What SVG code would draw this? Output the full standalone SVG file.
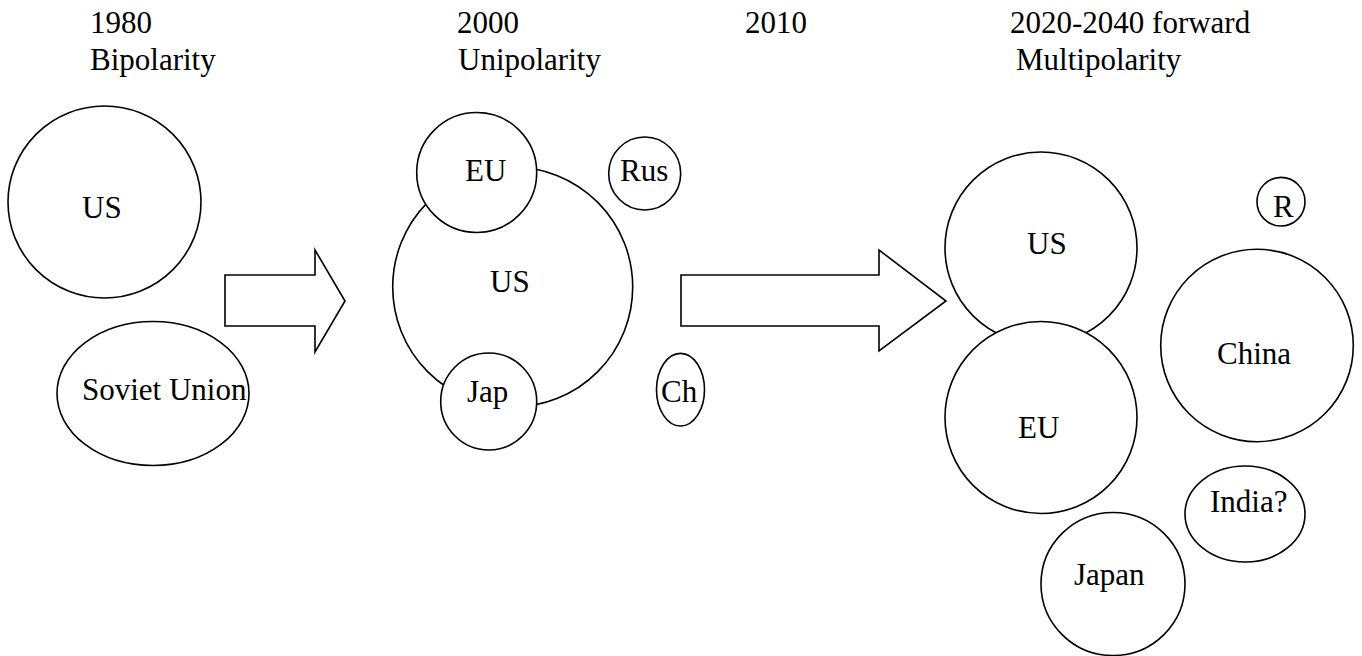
<svg xmlns="http://www.w3.org/2000/svg" width="1362" height="656" viewBox="0 0 1362 656">
<style>
.s{fill:#fff;stroke:#000;stroke-width:1.6}
</style>
<rect width="1362" height="656" fill="#fff"/>
<g font-family="Liberation Serif, Tinos, Times New Roman, serif" font-size="31" fill="#000">
<g id="titles">
<text x="90" y="33">1980</text>
<text x="90" y="70">Bipolarity</text>
<text x="457" y="33">2000</text>
<text x="458" y="70">Unipolarity</text>
<text x="745" y="33">2010</text>
<text x="1010" y="33">2020-2040 forward</text>
<text x="1016" y="70">Multipolarity</text>
</g>
<g id="connectors">
<path class="s" d="M225,275 H315 V250 L345,301 L315,352 V326 H225 Z"/>
<path class="s" d="M681,275 H879 V250 L946,301 L879,351 V326 H681 Z"/>
</g>
<g id="us1980"><ellipse class="s" cx="104.5" cy="202" rx="96.5" ry="96"/><text x="82" y="218">US</text></g>
<g id="soviet"><ellipse class="s" cx="153" cy="393.5" rx="96" ry="72"/><text x="82" y="400">Soviet Union</text></g>
<g id="us2000"><ellipse class="s" cx="512.7" cy="287" rx="120" ry="120"/><text x="490" y="292">US</text></g>
<g id="eu2000"><ellipse class="s" cx="476.7" cy="172.5" rx="60" ry="60"/><text x="465" y="181">EU</text></g>
<g id="jap2000"><ellipse class="s" cx="488.7" cy="401.5" rx="48" ry="48.5"/><text x="467" y="402">Jap</text></g>
<g id="rus2000"><ellipse class="s" cx="644.7" cy="173.5" rx="36" ry="36.5"/><text x="620" y="181">Rus</text></g>
<g id="ch2000"><ellipse class="s" cx="680.5" cy="389.7" rx="24" ry="36.3"/><text x="661" y="402">Ch</text></g>
<g id="us2020"><ellipse class="s" cx="1041" cy="248" rx="96" ry="96"/><text x="1027" y="254">US</text></g>
<g id="eu2020"><ellipse class="s" cx="1041" cy="417.5" rx="96" ry="96"/><text x="1018" y="438">EU</text></g>
<g id="r2020"><ellipse class="s" cx="1281" cy="201.7" rx="24" ry="24.3"/><text x="1273" y="217">R</text></g>
<g id="china2020"><ellipse class="s" cx="1257" cy="345.5" rx="96.3" ry="96.2"/><text x="1217" y="364">China</text></g>
<g id="india2020"><ellipse class="s" cx="1245" cy="514" rx="60" ry="48"/><text x="1210" y="512">India?</text></g>
<g id="japan2020"><ellipse class="s" cx="1113" cy="584" rx="72" ry="71.5"/><text x="1074" y="585">Japan</text></g>
</g>
</svg>
